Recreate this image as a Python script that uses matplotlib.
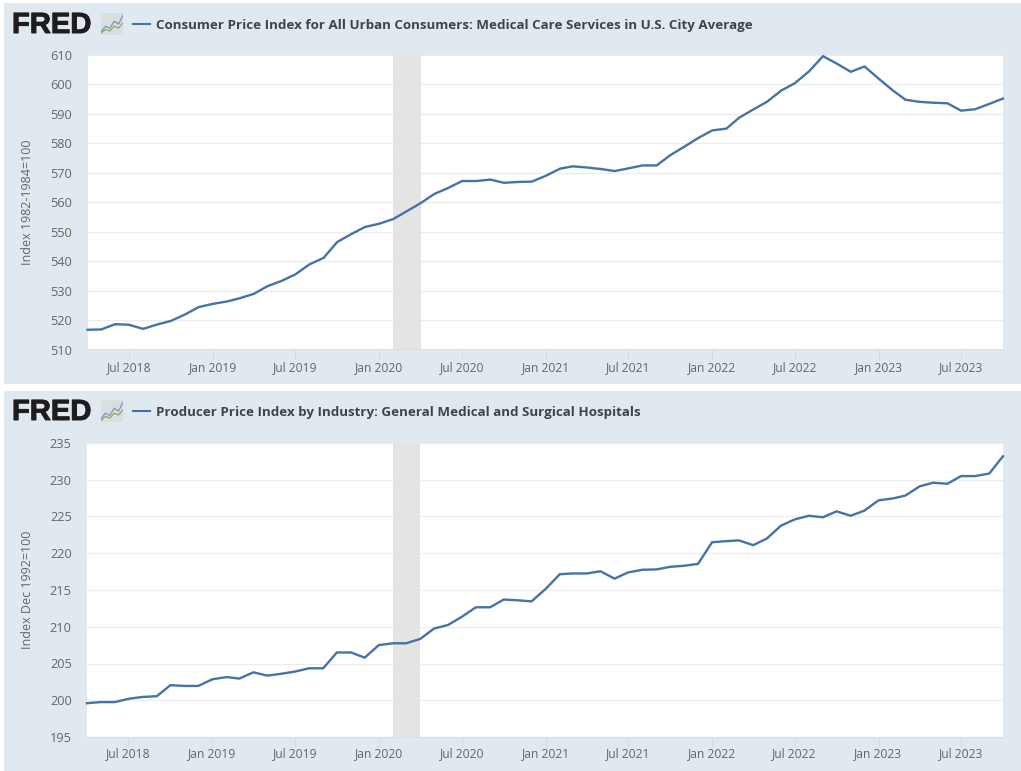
import numpy as np
import pandas as pd
import matplotlib
matplotlib.use('Agg')
import matplotlib.pyplot as plt
import matplotlib.dates as mdates
import matplotlib.patheffects as pe
from matplotlib.patches import Rectangle

plt.rcParams['font.family'] = ['Open Sans', 'DejaVu Sans']

W, H = 1021, 771

dates = pd.date_range('2018-04-01', '2023-10-01', freq='MS')

cpi = [516.7, 516.8, 518.6, 518.4, 517.0, 518.5, 519.7, 521.9, 524.4, 525.5,
       526.3, 527.4, 528.9, 531.5, 533.3, 535.5, 538.9, 541.1, 546.5, 549.2,
       551.6, 552.7, 554.3, 556.9, 559.7, 562.8, 564.9, 567.2, 567.2, 567.7,
       566.6, 566.9, 567.0, 569.0, 571.4, 572.2, 571.8, 571.3, 570.6, 571.5,
       572.5, 572.5, 576.0, 578.9, 581.8, 584.4, 585.0, 588.7, 591.5, 594.1,
       597.9, 600.4, 604.4, 609.6, 607.1, 604.3, 606.1, 602.0, 598.0, 594.8,
       594.1, 593.8, 593.6, 591.1, 591.6, 593.4, 595.2]

ppi = [199.6, 199.75, 199.75, 200.2, 200.45, 200.55, 202.05, 201.95, 201.95, 202.85,
       203.15, 202.95, 203.8, 203.35, 203.6, 203.9, 204.35, 204.35, 206.5, 206.5,
       205.8, 207.5, 207.75, 207.75, 208.35, 209.75, 210.25, 211.35, 212.65, 212.65,
       213.7, 213.6, 213.45, 215.15, 217.15, 217.25, 217.25, 217.55, 216.55, 217.4,
       217.75, 217.8, 218.15, 218.3, 218.55, 221.5, 221.65, 221.75, 221.1, 222.0,
       223.75, 224.6, 225.1, 224.9, 225.7, 225.1, 225.8, 227.2, 227.45, 227.85,
       229.1, 229.6, 229.45, 230.5, 230.5, 230.85, 233.2]

cpi_ticks = [510, 520, 530, 540, 550, 560, 570, 580, 590, 600, 610]
ppi_ticks = [195, 200, 205, 210, 215, 220, 225, 230, 235]
x_ticks = pd.date_range('2018-07-01', '2023-07-01', freq='6MS')
recession = ['2020-02-01', '2020-04-01']

cpi_title = 'Consumer Price Index for All Urban Consumers: Medical Care Services in U.S. City Average'
ppi_title = 'Producer Price Index by Industry: General Medical and Surgical Hospitals'

icon_blue = [0.15, 0.4, 0.3, 0.62, 0.5, 0.9]
icon_green = [0.08, 0.25, 0.18, 0.4, 0.32, 0.55]

BG = '#e1e9f0'
LINE = '#4572a7'
TXT = '#666666'
TITLE = '#3f4449'


def box(x0, y0, x1, y1):
    # pixel box (y from top) to figure fractions
    return [x0 / W, 1 - y1 / H, (x1 - x0) / W, (y1 - y0) / H]


def panel(fig, top, bottom, ax_top, ax_bot, ax_left, ax_right, vals, ticks, ylabel, title, title_y, xpad):
    fig.add_artist(Rectangle((4 / W, 1 - bottom / H), (W - 4) / W, (bottom - top) / H,
                             transform=fig.transFigure, color=BG, lw=0, zorder=-5))
    ax = fig.add_axes(box(ax_left, ax_top, ax_right, ax_bot))
    ax.plot(dates, vals, color=LINE, lw=1.7, solid_joinstyle='miter', zorder=4, clip_on=False)
    ax.axvspan(pd.Timestamp(recession[0]), pd.Timestamp(recession[1]), color='#e4e4e4', lw=0, zorder=3)
    ax.set_xlim(dates[0], dates[-1])
    ax.set_ylim(ticks[0], ticks[-1])
    ax.set_yticks(ticks)
    ax.set_xticks(x_ticks)
    ax.xaxis.set_major_formatter(mdates.DateFormatter('%b %Y'))
    ax.grid(axis='y', color='#ececec', lw=0.9, zorder=1)
    ax.set_axisbelow(True)
    for s in ['top', 'right', 'left']:
        ax.spines[s].set_visible(False)
    ax.spines['bottom'].set_color('#d5e0ea')
    ax.spines['bottom'].set_linewidth(0.8)
    ax.tick_params(axis='y', length=0, pad=11, labelsize=9.2, labelcolor=TXT)
    ax.tick_params(axis='x', length=7, width=0.7, color='#cfdbe6', pad=xpad, labelsize=8.7, labelcolor=TXT)
    ax.set_ylabel(ylabel, fontsize=9, color=TXT)
    ax.yaxis.set_label_coords((34 - ax_left) / (ax_right - ax_left), 0.5)

    fig.text(12 / W, 1 - (title_y + 1) / H, 'FRED', fontsize=21, fontweight='bold', color='#1d1d1f',
             va='center', ha='left', family=['Liberation Sans', 'DejaVu Sans'],
             path_effects=[pe.withStroke(linewidth=0.7, foreground='#1d1d1f')])
    ic = fig.add_axes(box(101, title_y - 11, 123, title_y + 11))
    ic.set_facecolor('#d9dedf')
    ic.plot(np.linspace(0, 1, len(icon_blue)), icon_blue, color='#7f97b5', lw=0.9)
    ic.plot(np.linspace(0, 1, len(icon_green)), icon_green, color='#8aa86a', lw=0.9)
    ic.set(xlim=[0, 1], ylim=[0, 1], xticks=[], yticks=[])
    for s in ic.spines.values():
        s.set_visible(False)
    fig.add_artist(plt.Line2D([133 / W, 150 / W], [1 - title_y / H] * 2, color=LINE, lw=1.5))
    fig.text(156 / W, 1 - (title_y + 1.5) / H, title, fontsize=9.61, fontweight='bold', color=TITLE,
             va='center', ha='left')
    return ax


fig = plt.figure(figsize=(W / 100, H / 100), dpi=100, facecolor='white')
panel(fig, 3, 383.5, 55, 349.5, 87.5, 1003, cpi, cpi_ticks, 'Index 1982-1984=100', cpi_title, 24, 1)
panel(fig, 391, 771, 443, 737, 87, 1003, ppi, ppi_ticks, 'Index Dec 1992=100', ppi_title, 411, 0)
fig.savefig('out.png', dpi=100)
